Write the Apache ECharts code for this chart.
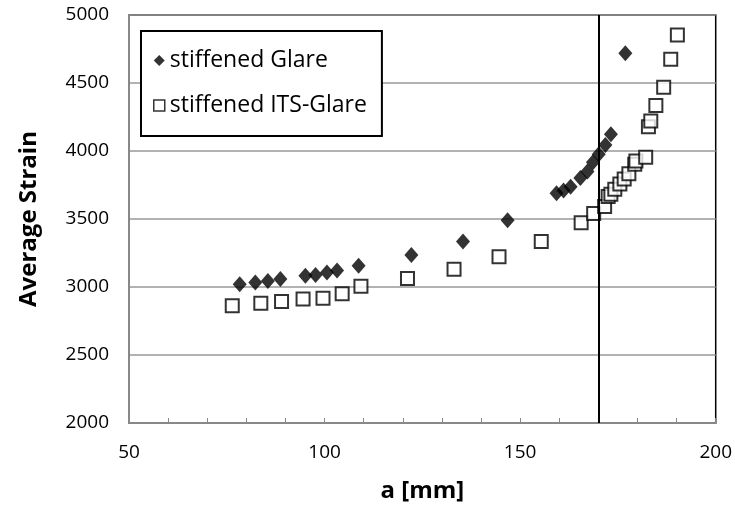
<!DOCTYPE html>
<html>
<head>
<meta charset="utf-8">
<script src="https://cdn.jsdelivr.net/npm/echarts@6/dist/echarts.min.js"></script>
<style>
  html, body { margin: 0; padding: 0; background: #fff; }
  #myCharts { width: 735px; height: 508px; }
</style>
</head>
<body>
<div id="myCharts"></div>
<script>
  // stiffened Glare (diamonds)
  var glareA = [78.3, 82.3, 85.5, 88.7, 95.1, 97.7, 100.6, 103.2, 108.7, 122.2, 135.4, 146.8,
    159.3, 161.1, 162.9, 165.4, 167.2, 168.6, 170.1, 171.8, 173.2, 176.9];
  var glareStrain = [3021, 3033, 3045, 3058, 3082, 3089, 3106, 3121, 3156, 3235, 3334, 3491,
    3690, 3709, 3738, 3802, 3849, 3918, 3976, 4045, 4123, 4718];

  // stiffened ITS-Glare (open squares)
  var itsA = [76.4, 83.7, 89.0, 94.5, 99.6, 104.5, 109.3, 121.2, 133.1, 144.6, 155.4, 165.6,
    168.8, 171.6, 172.5, 173.2, 174.2, 175.5, 176.6, 177.8, 179.3, 179.6, 182.1, 182.8,
    183.4, 184.7, 186.7, 188.5, 190.2];
  var itsStrain = [2862, 2881, 2893, 2911, 2918, 2950, 3006, 3062, 3131, 3222, 3334, 3472,
    3540, 3591, 3665, 3682, 3719, 3758, 3795, 3832, 3903, 3927, 3954, 4179,
    4221, 4334, 4469, 4674, 4853];

  var markerLineA = 170;
  var xLabels = [50, 100, 150, 200];

  function pairs(xs, ys) {
    return xs.map(function (x, i) { return [x, ys[i]]; });
  }

  var font = '"Open Sans", "Liberation Sans", sans-serif';

  var options = {
    animation: false,
    grid: {
      left: 129, right: 18, top: 15, bottom: 85,
      show: true, borderColor: '#000', borderWidth: 1.5
    },
    legend: {
      orient: 'vertical',
      left: 141, top: 31,
      padding: [18, 15, 19, 12],
      itemGap: 22,
      itemWidth: 11, itemHeight: 11,
      borderColor: '#000', borderWidth: 2,
      backgroundColor: '#fff',
      textStyle: { fontFamily: font, fontSize: 23, color: '#000' },
      data: [
        { name: 'stiffened Glare', icon: 'diamond', itemStyle: { color: '#000', borderWidth: 0 } },
        { name: 'stiffened ITS-Glare', icon: 'rect', itemStyle: { color: '#fff', borderColor: '#000', borderWidth: 1.5 } }
      ]
    },
    xAxis: {
      type: 'value',
      min: 50, max: 200, interval: 10,
      name: 'a [mm]',
      nameLocation: 'middle',
      nameGap: 56,
      nameTextStyle: { fontFamily: font, fontSize: 24, fontWeight: 'bold', color: '#000' },
      axisLine: { onZero: false, lineStyle: { color: '#888', width: 2 } },
      axisTick: { inside: true, length: 5, lineStyle: { color: '#888' } },
      axisLabel: {
        margin: 20,
        fontFamily: font, fontSize: 19, color: '#000',
        formatter: function (v) { return xLabels.indexOf(v) >= 0 ? String(v) : ''; }
      },
      splitLine: { show: false }
    },
    yAxis: {
      type: 'value',
      min: 2000, max: 5000, interval: 500,
      name: 'Average Strain',
      nameLocation: 'middle',
      nameGap: 88,
      nameTextStyle: { fontFamily: font, fontSize: 24, fontWeight: 'bold', color: '#000' },
      axisLine: { show: true, lineStyle: { color: '#888', width: 2 } },
      axisTick: { show: false },
      axisLabel: {
        margin: 20, fontFamily: font, fontSize: 19, color: '#000',
        formatter: function (v) { return String(v); }
      },
      splitLine: { lineStyle: { color: '#999', width: 1.5 } }
    },
    series: [
      {
        name: 'stiffened Glare',
        type: 'scatter',
        symbol: 'diamond',
        symbolSize: [14, 16],
        itemStyle: { color: '#000' },
        data: pairs(glareA, glareStrain),
        markLine: {
          silent: true,
          symbol: 'none',
          label: { show: false },
          lineStyle: { color: '#000', width: 2, type: 'solid' },
          data: [{ xAxis: markerLineA }]
        },
        z: 3
      },
      {
        name: 'stiffened ITS-Glare',
        type: 'scatter',
        symbol: 'rect',
        symbolSize: 13,
        itemStyle: { color: '#fff', borderColor: '#000', borderWidth: 2 },
        data: pairs(itsA, itsStrain),
        z: 2
      }
    ]
  };

  var myCharts = echarts.init(document.getElementById('myCharts'));
  myCharts.setOption(options);
</script>
</body>
</html>
